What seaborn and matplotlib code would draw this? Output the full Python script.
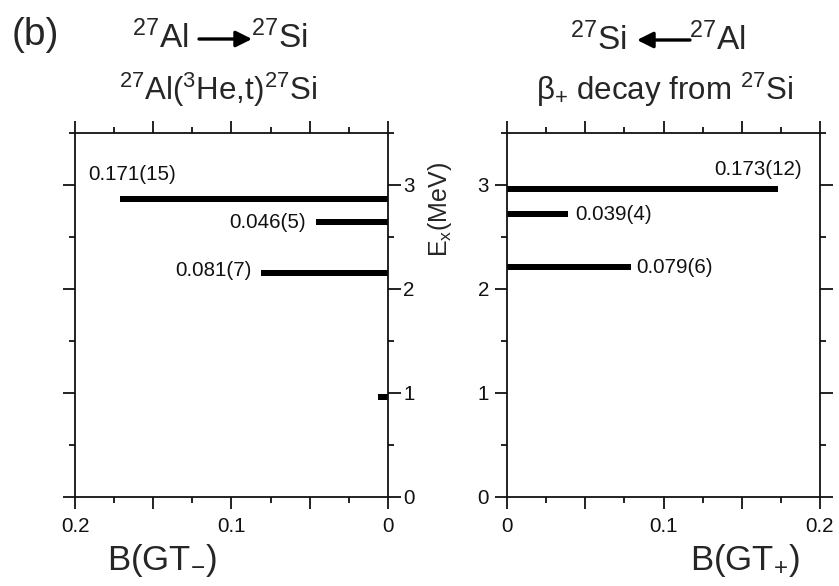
import numpy as np
import pandas as pd
import matplotlib
matplotlib.use("Agg")
import matplotlib.pyplot as plt
from matplotlib.ticker import MultipleLocator, FuncFormatter
import seaborn as sns

# (3He,t) strengths, 27Al -> 27Si
ex_minus = [2.87, 2.64, 2.15, 0.96]
bgt_minus = [0.171, 0.046, 0.081, 0.0065]
lab_minus = ["0.171(15)", "0.046(5)", "0.081(7)", None]

# beta+ decay strengths of 27Si
ex_plus = [2.96, 2.72, 2.21]
bgt_plus = [0.173, 0.039, 0.079]
lab_plus = ["0.173(12)", "0.039(4)", "0.079(6)"]

sns.set_style("ticks")
plt.rcParams["font.family"] = ["Liberation Sans", "DejaVu Sans"]
plt.rcParams["mathtext.fontset"] = "custom"
plt.rcParams["mathtext.rm"] = "Liberation Sans"
plt.rcParams["mathtext.it"] = "Liberation Sans"
plt.rcParams["mathtext.bf"] = "Liberation Sans:bold"

W, H = 839, 586
fig = plt.figure(figsize=(W / 100, H / 100), dpi=100)
axL = fig.add_axes([75 / W, 1 - 497 / H, 313 / W, 364 / H])
axR = fig.add_axes([507 / W, 1 - 497 / H, 313 / W, 364 / H])

BAR_THICK = 0.058  # bar height in MeV
TICK_FS = 14.8


def draw_bars(ax, ex, bgt):
    df = pd.DataFrame({"E": ex, "B": bgt})
    min_gap = np.min(np.diff(np.sort(df["E"].unique())))
    sns.barplot(data=df, x="B", y="E", orient="y", native_scale=True,
                width=BAR_THICK / min_gap, color="black", linewidth=0,
                saturation=1, errorbar=None, ax=ax)


draw_bars(axL, ex_minus, bgt_minus)
draw_bars(axR, ex_plus, bgt_plus)

fmt = FuncFormatter(lambda v, p: ("0" if abs(v) < 1e-9 else f"{v:.1f}")
                    if abs(round(v * 10) - v * 10) < 1e-6 else "")

for ax in (axL, axR):
    ax.set_ylim(0, 3.5)
    ax.set_xlabel("")
    ax.set_ylabel("")
    ax.xaxis.set_major_locator(MultipleLocator(0.05))
    ax.xaxis.set_minor_locator(MultipleLocator(0.025))
    ax.xaxis.set_major_formatter(fmt)
    ax.yaxis.set_major_locator(MultipleLocator(1))
    ax.yaxis.set_minor_locator(MultipleLocator(0.5))
    for s in ax.spines.values():
        s.set_visible(True)
        s.set_linewidth(1.3)
        s.set_color("#111111")
    ax.tick_params(which="both", direction="out", top=True, bottom=True,
                   left=True, right=True, width=1.3, color="#111111",
                   labelsize=TICK_FS, labelcolor="#111111")
    ax.tick_params(axis="x", which="major", length=8.5, pad=6)
    ax.tick_params(axis="x", which="minor", length=4)
    ax.tick_params(axis="y", which="major", length=9)
    ax.tick_params(axis="y", which="minor", length=4.5)
    ax.tick_params(axis="x", labeltop=False, labelbottom=True)

axL.set_xlim(0.2, 0)
axL.tick_params(axis="y", labelleft=False, labelright=True, pad=2)
axR.set_xlim(0, 0.2)
axR.tick_params(axis="y", labelleft=True, labelright=False, pad=4)

# value labels next to the bars
offsL = [(12, 24, "center"), (-10, 0, "right"), (-10, 3, "right")]
for e, b, t, o in zip(ex_minus, bgt_minus, lab_minus, offsL + [None]):
    if t is None:
        continue
    axL.annotate(t, xy=(b, e), xytext=(o[0], o[1]), textcoords="offset pixels",
                 ha=o[2], va="center", fontsize=TICK_FS, color="#111111")

offsR = [(24, 20, "right"), (7, 0, "left"), (6, 0, "left")]
for e, b, t, o in zip(ex_plus, bgt_plus, lab_plus, offsR):
    axR.annotate(t, xy=(b, e), xytext=(o[0], o[1]), textcoords="offset pixels",
                 ha=o[2], va="center", fontsize=TICK_FS, color="#111111")

# headings
TITLE_FS = 24
SUB_FS = 22.5
fig.text(12 / W, 1 - 45 / H, "(b)", fontsize=28, ha="left", va="baseline")

fig.text(189 / W, 1 - 48 / H, r"$^{27}$Al", fontsize=TITLE_FS, ha="right", va="baseline")
fig.text(251 / W, 1 - 48 / H, r"$^{27}$Si", fontsize=TITLE_FS, ha="left", va="baseline")
fig.text(627 / W, 1 - 50 / H, r"$^{27}$Si", fontsize=TITLE_FS, ha="right", va="baseline")
fig.text(689 / W, 1 - 50 / H, r"$^{27}$Al", fontsize=TITLE_FS, ha="left", va="baseline")

arrow = dict(arrowstyle="-|>", lw=2.4, color="black", mutation_scale=24,
             shrinkA=0, shrinkB=0)
fig.add_artist(matplotlib.patches.FancyArrowPatch(
    (199, H - 39), (252, H - 39), transform=None, **arrow))
fig.add_artist(matplotlib.patches.FancyArrowPatch(
    (690, H - 40), (637, H - 40), transform=None, **arrow))

fig.text(218 / W, 1 - 100 / H, r"$^{27}$Al($^{3}$He,t)$^{27}$Si",
         fontsize=SUB_FS, ha="center", va="baseline")
fig.text(665 / W, 1 - 100 / H, r"β$_{+}$ decay from $^{27}$Si",
         fontsize=SUB_FS, ha="center", va="baseline")

# axis titles
fig.text(107 / W, 1 - 570 / H, r"B(GT$_{-}$)", fontsize=25, ha="left", va="baseline")
fig.text(690 / W, 1 - 570 / H, r"B(GT$_{+}$)", fontsize=25, ha="left", va="baseline")
fig.text(440 / W, 1 - 210 / H, r"E$_{x}$(MeV)", fontsize=18, rotation=90,
         ha="center", va="center")

fig.savefig("out.png", dpi=100)
